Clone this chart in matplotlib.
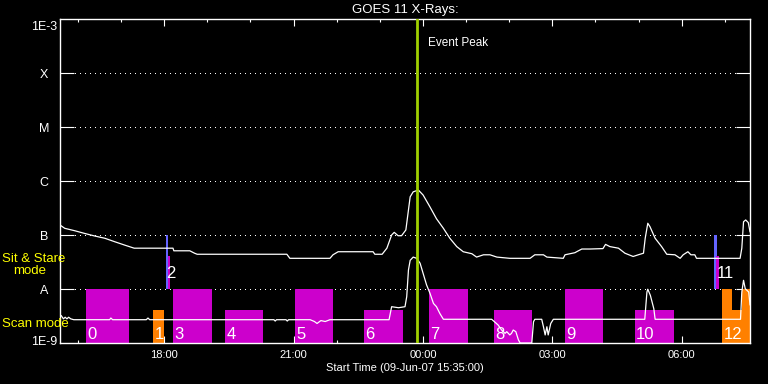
import numpy as np
import matplotlib
matplotlib.use("Agg")
import matplotlib.pyplot as plt
import matplotlib.transforms as mtransforms
from matplotlib.ticker import NullLocator

plt.rcParams['font.family'] = ['Liberation Sans', 'DejaVu Sans']

startHour = 15 + 35 / 60.  # 09-Jun-07 15:35:00, x axis is hours after this
peakT = 8.28

# GOES long channel (1-8 A), W/m^2
longT = [0.00, 0.11, 0.34, 0.57, 0.80, 1.04, 1.27, 1.50, 1.72, 2.62, 2.64, 3.01, 3.12, 3.18,
         5.26, 5.33, 6.26, 6.33, 6.45, 7.26, 7.30, 7.47, 7.58, 7.69, 7.75, 7.84, 7.92, 8.02,
         8.08, 8.12, 8.19, 8.31, 8.42, 8.58, 8.73, 8.89, 9.04, 9.20, 9.35, 9.55, 9.66, 9.82,
         9.97, 10.13, 10.43, 10.90, 11.01, 11.21, 11.29, 11.67, 11.71, 11.94, 11.98, 12.10,
         12.29, 12.59, 12.65, 12.75, 12.95, 13.10, 13.29, 13.41, 13.53, 13.57, 13.63, 13.68,
         13.80, 13.95, 14.07, 14.26, 14.38, 14.45, 14.56, 14.63, 14.72, 14.76, 15.77, 15.81,
         15.85, 15.90, 15.96, 16.00]
longFlux = [15.3, 13.3, 12.0, 10.7, 9.6, 8.7, 7.5, 6.5, 5.7, 5.7, 5.1, 5.1, 4.6, 4.4,
            4.4, 3.7, 3.7, 4.3, 4.9, 4.9, 4.4, 4.4, 5.7, 10.0, 11.2, 9.7, 9.7, 12.4,
            29, 51, 63, 68, 55, 33, 20, 13.3, 8.7, 6.1, 4.9, 4.5, 3.9, 4.3,
            4.3, 3.9, 3.7, 3.7, 4.3, 4.3, 3.9, 3.7, 4.3, 4.7, 4.9, 5.5,
            5.5, 5.6, 6.7, 6.1, 5.7, 4.6, 4.0, 4.3, 4.6, 8.7, 16.5, 14.3,
            8.7, 6.1, 4.4, 4.3, 3.7, 4.3, 4.9, 4.3, 4.3, 3.7, 3.7, 5.7,
            17.6, 19.0, 17.0, 11.5]
longFlux = np.array(longFlux) * 1e-8

# GOES short channel (0.5-4 A)
shortT = [0.03, 0.08, 0.12, 0.16, 0.20, 0.25, 0.32, 1.15, 1.18, 1.22, 2.00, 2.04, 2.08,
          4.96, 4.99, 5.02, 5.24, 5.27, 5.30, 5.80, 5.90, 5.96, 6.05, 6.15, 6.26,
          7.63, 7.69, 7.85, 8.00, 8.04, 8.08, 8.12, 8.19, 8.27, 8.35, 8.42, 8.50, 8.58,
          8.66, 8.73, 8.81, 8.89, 10.01, 10.16, 10.24, 10.32, 10.36, 10.43, 10.47, 10.51,
          10.57, 10.63, 10.67, 10.94, 10.98, 11.01, 11.17, 11.21, 11.25, 11.29, 11.32,
          11.38, 11.44, 13.56, 13.61, 13.63, 13.69, 13.77, 13.80, 15.78, 15.81, 15.85,
          15.89, 15.97, 16.00]
shortFlux = [3.2, 2.8, 3.0, 2.8, 3.0, 2.8, 2.7, 2.7, 2.9, 2.7, 2.7, 2.9, 2.7,
             2.7, 2.55, 2.7, 2.7, 2.55, 2.7, 2.7, 2.5, 2.3, 2.6, 2.5, 2.7,
             2.7, 4.7, 4.5, 4.7, 7.2, 22.5, 34, 39, 37, 30, 19.5, 11.9, 8.3,
             5.4, 4.7, 3.5, 2.75, 2.75, 2.15, 1.74, 1.51, 1.62, 1.41, 1.51, 1.74,
             1.62, 1.14, 1.0, 1.0, 2.48, 2.75, 2.75, 2.0, 1.41, 2.0, 1.41,
             2.3, 2.75, 2.75, 8.8, 9.9, 7.6, 4.3, 2.75, 2.75, 8.8, 14.5,
             10.1, 8.8, 5.1]
shortFlux = np.array(shortFlux) * 1e-9

# observation blocks (hours after start)
barStart = [0.60, 2.16, 2.46, 2.50, 2.62, 3.83, 5.45, 7.05, 8.56, 10.06, 11.71, 13.33,
            15.17, 15.21, 15.35, 15.58, 15.81]
barEnd = [1.60, 2.41, 2.50, 2.55, 3.52, 4.70, 6.33, 7.95, 9.46, 10.95, 12.59, 14.24,
          15.23, 15.28, 15.58, 15.81, 16.00]
barBottom = [1e-9, 1e-9, 1e-8, 1e-8, 1e-9, 1e-9, 1e-9, 1e-9, 1e-9, 1e-9, 1e-9, 1e-9,
             1e-8, 1e-8, 1e-9, 1e-9, 1e-9]
barTop = [1e-8, 4.1e-9, 1e-7, 4.1e-8, 1e-8, 4.1e-9, 1e-8, 4.1e-9, 1e-8, 4.1e-9, 1e-8, 4.1e-9,
          1e-7, 4.1e-8, 1e-8, 4.1e-9, 1e-8]
barColor = ['#cc00cc', '#ff8000', '#6464ff', '#cc00cc', '#cc00cc', '#cc00cc', '#cc00cc',
            '#cc00cc', '#cc00cc', '#cc00cc', '#cc00cc', '#cc00cc', '#6464ff', '#cc00cc',
            '#ff8000', '#ff8000', '#ff8000']

blockNames = ['0', '1', '2', '3', '4', '5', '6', '7', '8', '9', '10', '11', '12']
blockT = [0.63, 2.19, 2.47, 2.65, 3.86, 5.48, 7.08, 8.59, 10.09, 11.74, 13.36, 15.22, 15.38]
blockY = [1.2e-9, 1.2e-9, 1.62e-8, 1.2e-9, 1.2e-9, 1.2e-9, 1.2e-9, 1.2e-9, 1.2e-9, 1.2e-9,
          1.2e-9, 1.62e-8, 1.2e-9]

yLevels = [1e-9, 1e-8, 1e-7, 1e-6, 1e-5, 1e-4, 1e-3]
yNames = ['1E-9', 'A', 'B', 'C', 'M', 'X', '1E-3']

tickHours = [18, 21, 0, 3, 6]
tickNames = ['18:00', '21:00', '00:00', '03:00', '06:00']

W, H = 768, 384
fig = plt.figure(figsize=(W / 100, H / 100), dpi=100, facecolor='black')
ax = fig.add_axes([60 / W, 1 - 343 / H, 690 / W, 324 / H])
ax.set_facecolor('black')
ax.set_yscale('log')
ax.set_xlim(0, 16)
ax.set_ylim(1e-9, 1e-3)

# dotted flare-class lines
for lev in yLevels[1:-1]:
    ax.axhline(lev, color='white', lw=0.72, ls=(0, (1, 5)), zorder=1, antialiased=False)

ax.bar(barStart, np.array(barTop) - np.array(barBottom), width=np.array(barEnd) - np.array(barStart),
       bottom=barBottom, align='edge', color=barColor, linewidth=0, zorder=2)

for name, t, y in zip(blockNames, blockT, blockY):
    ax.text(t, y, name, color='white', fontsize=12, ha='left', va='baseline', zorder=3)

ax.plot(longT, longFlux, color='white', lw=0.9, zorder=4)
ax.plot(shortT, shortFlux, color='white', lw=0.9, zorder=4, clip_on=False)

ax.axvline(peakT, color='#a0d000', lw=2, zorder=5)
ax.text(peakT + 0.255, 1 - 24 / 324, 'Event Peak', color='white', fontsize=8.5,
        va='center', ha='left', transform=ax.get_xaxis_transform())

# axes styling
for s in ax.spines.values():
    s.set_color('white')
    s.set_linewidth(1)

major = [(h - startHour) % 24 for h in tickHours]
ax.set_xticks(major)
ax.set_xticklabels(tickNames)
ax.set_xticks([0.4167 + k for k in range(16)], minor=True)
ax.tick_params(axis='x', which='both', direction='in', top=True, bottom=True,
               colors='white', labelsize=8, width=0.8, pad=5)
ax.tick_params(axis='x', which='major', length=5)
ax.tick_params(axis='x', which='minor', length=2.5)

ax.set_yticks(yLevels[1:-1])
ax.yaxis.set_minor_locator(NullLocator())
ax.set_yticklabels([])
ax.tick_params(axis='y', which='major', direction='in', left=True, right=True,
               length=10, width=0.8, color='white')

lab = mtransforms.blended_transform_factory(fig.transFigure, ax.transData)
lab = mtransforms.offset_copy(lab, fig=fig, y=-2, units='dots')
for lev, name in zip(yLevels, yNames):
    va = 'center'
    if name == '1E-3':
        va = 'top'
    elif name == '1E-9':
        va = 'baseline'
    ax.text(44 / W, lev, name, color='white', fontsize=9, ha='center', va=va,
            transform=lab, clip_on=False)

ax.set_title('GOES 11 X-Rays:', color='white', fontsize=9.5, pad=4)
ax.set_xlabel('Start Time (09-Jun-07 15:35:00)', color='white', fontsize=8, labelpad=2)

yellow = '#ffff00'
fig.text(2 / W, 1 - 259 / H, 'Sit & Stare', color=yellow, fontsize=9.5, va='center')
fig.text(13 / W, 1 - 271 / H, 'mode', color=yellow, fontsize=9.5, va='center')
fig.text(2 / W, 1 - 324 / H, 'Scan mode', color=yellow, fontsize=9.5, va='center')

fig.savefig('out.png', dpi=100, facecolor='black')
